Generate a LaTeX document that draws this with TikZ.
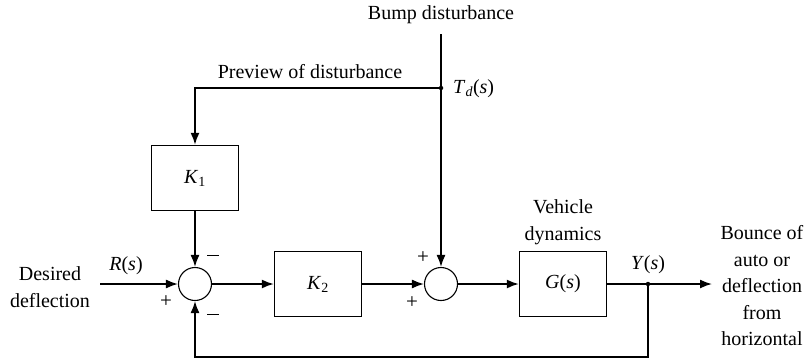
\documentclass[tikz,border=0pt]{standalone}
\usepackage{fontspec}
\setmainfont{Liberation Serif}
\usetikzlibrary{arrows.meta}
\begin{document}
\begin{tikzpicture}[x=1pt,y=-1pt,
  txt/.style={font=\fontsize{20}{26.5}\selectfont, align=center, inner sep=0pt},
  sgn/.style={font=\fontsize{21}{21}\selectfont, inner sep=0pt},
  blk/.style={draw, line width=1.4pt, minimum width=87pt, minimum height=65pt, inner sep=0pt, font=\fontsize{20}{20}\selectfont},
  sumc/.style={draw, circle, line width=1.1pt, minimum size=33pt, inner sep=0pt},
  wire/.style={line width=1.6pt},
  arr/.style={wire, -{Latex[length=12pt,width=9pt]}},
  dotc/.style={circle, fill, inner sep=0pt, minimum size=4.5pt}]
\useasboundingbox (0,0) rectangle (810,360);
% blocks
\node[blk] (k1) at (195,178) {\textit{K}\textsubscript{1}};
\node[blk] (k2) at (318,284) {\textit{K}\textsubscript{2}};
\node[blk] (g) at (563,284) {\textit{G}(\textit{s})};
\node[sumc] (s1) at (195,284) {};
\node[sumc] (s2) at (441,284) {};
% points
\coordinate (top) at (441,34);
\node[dotc] (td) at (441,88) {};
\node[dotc] (yp) at (648,284) {};
\coordinate (in) at (100,284);
\coordinate (out) at (712,284);
\coordinate (fb) at (648,357);
% texts
\node[txt] (bump) at (441,15) {Bump disturbance};
\node[txt] (prev) at (310,72) {Preview of disturbance};
\node[txt, anchor=west] (tdl) at (453,89) {\textit{T}\textsubscript{\textit{d}}(\textit{s})};
\node[txt] (des) at (50,287) {Desired\\deflection};
\node[txt] (rl) at (126,266) {\textit{R}(\textit{s})};
\node[txt] (veh) at (563,222) {Vehicle\\dynamics};
\node[txt] (yl) at (648,265) {\textit{Y}(\textit{s})};
\node[txt] (bounce) at (762,286) {Bounce of\\auto or\\deflection\\from\\horizontal};
% signs
\node[sgn] (m1) at (213,255) {\rule{12pt}{1pt}};
\node[sgn] (p1) at (166,302) {+};
\node[sgn] (m2) at (213,314) {\rule{12pt}{1pt}};
\node[sgn] (p2) at (423,258) {+};
\node[sgn] (p3) at (412,303) {+};
% connectors
\draw[wire] (top) -- (td.center);
\draw[arr] (td.center) -- (s2.north);
\draw[arr] (td.center) -| (k1.north);
\draw[arr] (k1.south) -- (s1.north);
\draw[arr] (in) -- (s1.west);
\draw[arr] (s1.east) -- (k2.west);
\draw[arr] (k2.east) -- (s2.west);
\draw[arr] (s2.east) -- (g.west);
\draw[wire] (g.east) -- (yp.center);
\draw[arr] (yp.center) -- (out);
\draw[arr] (yp.center) -- (fb) -| (s1.south);
\end{tikzpicture}
\end{document}
